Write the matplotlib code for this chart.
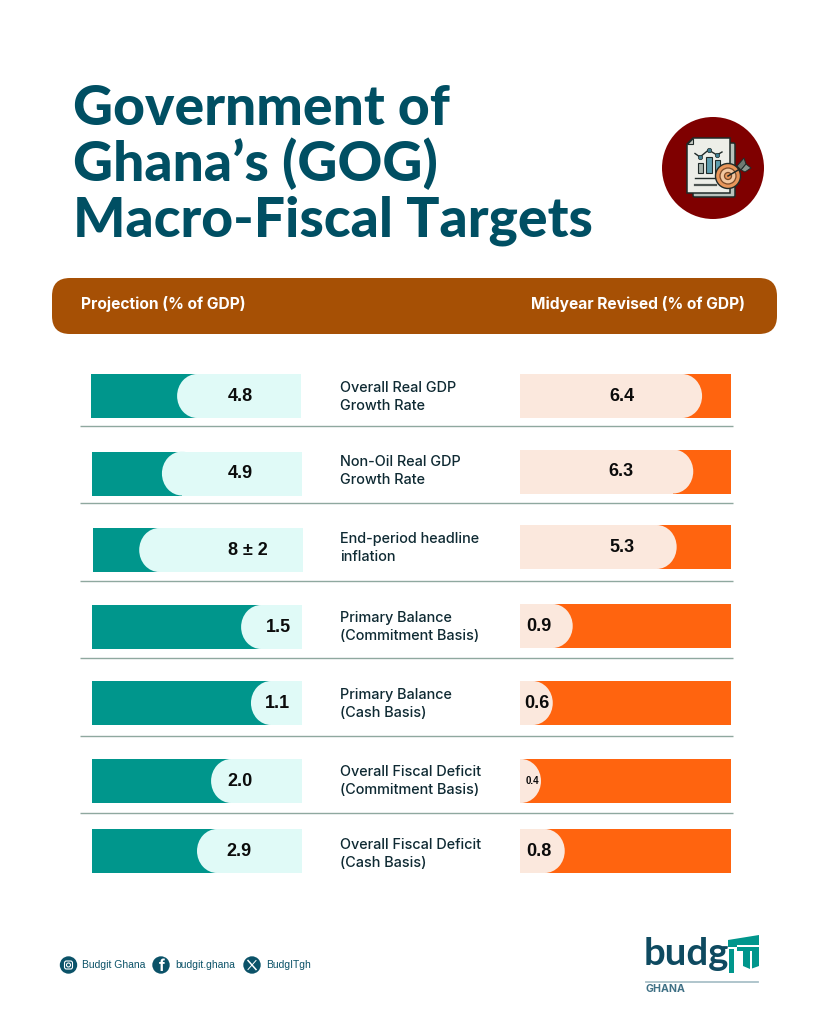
import matplotlib
matplotlib.use("Agg")
import matplotlib.pyplot as plt
from matplotlib.patches import Circle, Ellipse, FancyBboxPatch, Polygon, Rectangle

# ---- data ----
categories = ["Overall Real GDP\nGrowth Rate", "Non-Oil Real GDP\nGrowth Rate",
              "End-period headline\ninflation", "Primary Balance\n(Commitment Basis)",
              "Primary Balance\n(Cash Basis)", "Overall Fiscal Deficit\n(Commitment Basis)",
              "Overall Fiscal Deficit\n(Cash Basis)"]
projection_labels = ["4.8", "4.9", "8 ± 2", "1.5", "1.1", "2.0", "2.9"]
revised_labels = ["6.4", "6.3", "5.3", "0.9", "0.6", "0.4", "0.8"]
# share of each track covered by the pale pill
projection_share = [0.59, 0.667, 0.78, 0.29, 0.243, 0.433, 0.50]
revised_share = [0.867, 0.825, 0.746, 0.251, 0.156, 0.10, 0.213]

# ---- layout and style ----
NAVY = "#004F63"; TEAL = "#00968C"; MINT = "#E0FAF7"
ORANGE = "#FF640F"; PEACH = "#FBE8DD"; BROWN = "#A65005"; RULE = "#8FA89F"
FONT = ["Inter", "DejaVu Sans"]
HELV = ["Liberation Sans", "DejaVu Sans"]
LATO = ["Lato", "DejaVu Sans"]
left_y = [396, 473.5, 550, 627, 703, 781, 851]
right_y = [396, 471.5, 547, 626, 703, 781, 851]
left_x = [91, 92, 93, 92, 92, 92, 92]
right_x = [520] * 7
track_w, bar_h = 210, 44
cap_rx = 20
left_text_x = [240, 240, 248, 278, 277, 240, 239]
right_text_x = [622, 621, 622, 539, 537, 532, 539]
label_y = [397, 471, 548, 627, 704, 781, 854]
rule_y = [426, 503, 581, 658, 736, 813]

fig = plt.figure(figsize=(8.19, 10.24), dpi=100, facecolor="white")
ax = fig.add_axes([0, 0, 1, 1])
ax.set_xlim(0, 819); ax.set_ylim(1024, 0); ax.axis("off")

# title
for line, y in zip(["Government of", "Ghana’s (GOG)", "Macro-Fiscal Targets"], [125, 181, 237]):
    ax.text(73, y, line, color=NAVY, fontsize=39.8, fontweight="black", family=LATO, va="baseline")

# header band
ax.add_patch(FancyBboxPatch((52 + 18, 278 + 18), 725 - 36, 56 - 36,
                            boxstyle="round,pad=18,rounding_size=18", fc=BROWN, ec="none"))
ax.text(81, 304, "Projection (% of GDP)", color="white", fontsize=11.2, fontweight="bold",
        family=FONT, va="center")
ax.text(745, 304, "Midyear Revised (% of GDP)", color="white", fontsize=11.2, fontweight="bold",
        family=FONT, va="center", ha="right")

# separators
for y in rule_y:
    ax.plot([80, 733], [y, y], color=RULE, lw=1.0, solid_capstyle="butt")

# left bars: teal track, pale bar with an elliptic cap on its left end
ax.barh(left_y, [track_w] * 7, height=bar_h, left=left_x, color=TEAL, lw=0)
for x, y, s in zip(left_x, left_y, projection_share):
    w = s * track_w
    ax.barh(y, w - cap_rx, height=bar_h, left=x + track_w - w + cap_rx, color=MINT, lw=0)
    ax.add_patch(Ellipse((x + track_w - w + cap_rx, y), 2 * cap_rx, bar_h, fc=MINT, ec="none"))

# right bars: orange track, pale bar with an elliptic cap on its right end
ax.barh(right_y, [track_w + 1] * 7, height=bar_h, left=right_x, color=ORANGE, lw=0)
for x, y, s in zip(right_x, right_y, revised_share):
    w = s * track_w
    if w > cap_rx:
        ax.barh(y, w - cap_rx, height=bar_h, left=x, color=PEACH, lw=0)
    cap = Ellipse((x + w - cap_rx, y), 2 * cap_rx, bar_h, fc=PEACH, ec="none")
    ax.add_patch(cap)
    cap.set_clip_path(Rectangle((x, y - bar_h / 2), track_w, bar_h, transform=ax.transData))

# text in the rows
for x, y, t in zip(left_text_x, left_y, projection_labels):
    ax.text(x, y + 0.5, t, ha="center", va="center", fontsize=13, fontweight="bold",
            family=HELV, color="#0B0B0B")
for x, y, t in zip(right_text_x, right_y, revised_labels):
    ax.text(x, y + 0.5, t, ha="center", va="center", fontsize=7 if t == "0.4" else 13,
            fontweight="bold", family=HELV, color="#0B0B0B")
for y, t in zip(label_y, categories):
    ax.text(340, y, t, ha="left", va="center", fontsize=10.4, family=FONT, color="#0F2A33",
            fontweight="medium", linespacing=1.42)

# report-and-target icon
ax.add_patch(Circle((713, 168), 51, fc="#7F0000", ec="none"))
INK = "#1F2A28"
ax.add_patch(FancyBboxPatch((693, 143), 42, 54, boxstyle="round,pad=0,rounding_size=1.5",
                            fc="#B9C2BC", ec=INK, lw=1.1))
ax.add_patch(Polygon([(693, 138), (730, 138), (730, 193), (687, 193), (687, 144)],
                     closed=True, fc="#EDEEE8", ec=INK, lw=1.1))
ax.add_patch(Polygon([(687, 144), (693, 144), (693, 138)], closed=True, fc="#C8CCC5", ec=INK, lw=0.8))
for x0, x1, top, c in [(697.5, 702.5, 163, "#A9B5AE"), (706, 711.5, 157, "#5F9FB0"), (715, 720, 160, "#5F9FB0")]:
    ax.add_patch(Rectangle((x0, top), x1 - x0, 173 - top, fc=c, ec=INK, lw=0.8))
ax.plot([695, 700, 708.5, 717, 722], [153.5, 157, 150, 155, 152], color=INK, lw=1.0)
ax.scatter([700, 708.5, 717], [157, 150, 155], s=10, color="#3F7F92", edgecolor=INK, lw=0.5, zorder=3)
ax.plot([695, 716], [178, 178], color=INK, lw=1.0)
ax.plot([695, 716], [185, 185], color="#4D5552", lw=1.6)
ax.add_patch(Circle((728, 176), 12.5, fc="#E8965A", ec=INK, lw=1.0, zorder=4))
ax.add_patch(Circle((728, 176), 8, fc="#F2C7A0", ec="#7A4A28", lw=0.9, zorder=4))
ax.add_patch(Circle((728, 176), 3.5, fc="#E8965A", ec="#7A4A28", lw=0.9, zorder=4))
ax.plot([728, 745], [176, 166], color=INK, lw=1.1, zorder=5)
ax.add_patch(Polygon([(737, 166), (744, 158), (746, 164), (741, 170)], closed=True, fc="#6F7A72", ec=INK, lw=0.7, zorder=5))
ax.add_patch(Polygon([(741, 170), (746, 164), (751, 168), (745, 172)], closed=True, fc="#8C968E", ec=INK, lw=0.7, zorder=5))

# social row
for cx, tx, t in [(68.5, 82, "Budgit Ghana"), (161, 175, "budgit.ghana"), (252, 266, "BudgITgh")]:
    ax.add_patch(Circle((cx, 965), 8.7, fc="#0B5268", ec="none"))
    ax.text(tx, 965.5, t, fontsize=7.5, color="#0B5268", family=HELV, va="center")
ax.add_patch(FancyBboxPatch((64.5, 961), 8, 8, boxstyle="round,pad=0,rounding_size=2", fc="none", ec="white", lw=0.8))
ax.add_patch(Circle((68.5, 965), 2, fc="none", ec="white", lw=0.8))
ax.text(161.5, 966.5, "f", color="white", fontsize=11, fontweight="bold", family=FONT, ha="center", va="center")
ax.plot([248, 256], [960.5, 969.5], color="white", lw=1.1)
ax.plot([256, 248], [960.5, 969.5], color="white", lw=0.7)

# logo
ax.text(644, 965, "budg", color="#0E4A60", fontsize=27.5, fontweight="bold", family=LATO, va="baseline")
ax.add_patch(Polygon([(728, 940), (759, 935), (759, 945), (737, 945), (737, 947), (728, 947)],
                     closed=True, fc=TEAL, ec="none"))
ax.add_patch(Rectangle((729, 948.5), 5, 24.5, fc=TEAL, ec="none"))
ax.add_patch(Rectangle((737, 947), 22, 3.5, fc=TEAL, ec="none"))
ax.add_patch(Polygon([(743, 950), (750, 950), (750, 969), (743, 966)], closed=True, fc=TEAL, ec="none"))
ax.add_patch(Polygon([(752, 950), (759, 950), (759, 966), (752, 968.5)], closed=True, fc=TEAL, ec="none"))
ax.plot([646, 758], [982, 982], color="#A9C0C8", lw=1.3)
ax.text(646, 989.5, "GHANA", color="#3F7085", fontsize=7.6, fontweight="bold", family=FONT, va="center")

fig.savefig("out.png", dpi=100, facecolor="white")
